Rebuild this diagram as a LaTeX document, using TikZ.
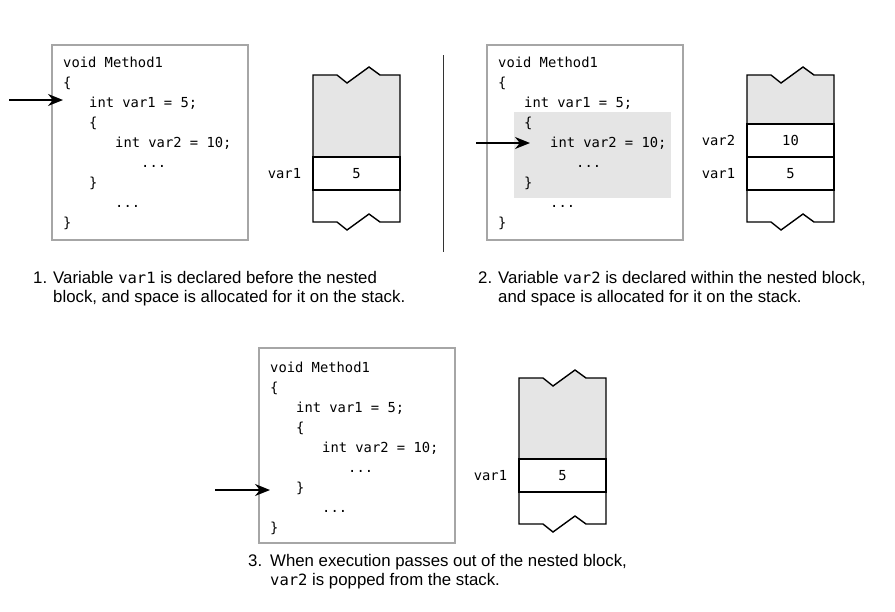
\documentclass[tikz,border=0pt]{standalone}
\usepackage{fontspec}
\setmainfont{Liberation Sans}
\setmonofont{DejaVu Sans Mono}
\usetikzlibrary{arrows.meta,positioning}

\newcommand{\codedots}{...}
\newcommand{\vname}[1]{{\ttfamily\fontsize{15.5}{19}\selectfont #1}}
\newcommand{\methodcode}{0/void Method1, 0/\{, 1/int var1 = 5;, 1/\{, 2/int var2 = 10;, 3/\codedots, 1/\}, 2/\codedots, 0/\}}

\begin{document}
\begin{tikzpicture}[x=1pt, y=-1pt,
    codebox/.style={draw=gray!70, line width=1.5pt, minimum width=196pt, minimum height=195pt, inner sep=0pt},
    codeline/.style={anchor=base west, inner sep=0pt, font=\ttfamily\fontsize{13.8}{16}\selectfont},
    cell/.style={draw, line width=1.4pt, minimum width=87pt, minimum height=33pt, inner sep=0pt, font=\ttfamily\fontsize{13.8}{16}\selectfont},
    varname/.style={inner sep=0pt, font=\ttfamily\fontsize{13.8}{16}\selectfont},
    stack/.style={draw, line width=1.4pt},
    caption/.style={anchor=base west, inner sep=0pt, align=left, font=\fontsize{16.8}{19.5}\selectfont},
    ptr/.style={-{Stealth[length=15pt,width=12pt]}, line width=1.8pt},
]
\useasboundingbox (0,0) rectangle (895,611);

% 1: before the nested block
\node[codebox] (box1) at (150,142.5) {};
\foreach \lv/\txt [count=\i] in \methodcode
  \node[codeline] (a\i) at ({63+26*\lv},{67+20*(\i-1)}) {\txt};
\coordinate (a-from) at (9,100);
\coordinate (a-to) at (63,100);
\draw[ptr] (a-from) -- (a-to);

\draw[stack, fill=gray!20] (313,157) -- (313,75) -- ++(24,0) -- ++(10,8) -- ++(22,-16) -- ++(11,8) -- (400,75) -- (400,157);
\node[cell] (s1a) at (356.5,173.5) {5};
\draw[stack] (313,190) -- (313,222) -- ++(24,0) -- ++(10,8) -- ++(22,-16) -- ++(11,8) -- (400,222) -- (400,190);
\node[varname, left=11pt of s1a] (l1a) {var1};

\node[caption] (cap1) at (33,283) {\begin{tabular}[t]{@{}p{20pt}@{}l@{}}
  1.&Variable \vname{var1} is declared before the nested\\
    &block, and space is allocated for it on the stack.
\end{tabular}};

\draw[line width=1pt, black!80] (443,55) -- (443,252);

% 2: inside the nested block
\fill[gray!20] (514,112) rectangle (671,198);
\node[codebox] (box2) at (585,142.5) {};
\foreach \lv/\txt [count=\i] in \methodcode
  \node[codeline] (b\i) at ({498+26*\lv},{67+20*(\i-1)}) {\txt};
\coordinate (b-from) at (476,143);
\coordinate (b-to) at (530,143);
\draw[ptr] (b-from) -- (b-to);

\draw[stack, fill=gray!20] (747,124) -- (747,75) -- ++(24,0) -- ++(10,8) -- ++(22,-16) -- ++(11,8) -- (834,75) -- (834,124);
\node[cell] (s2b) at (790.5,140.5) {10};
\node[cell] (s2a) at (790.5,173.5) {5};
\draw[stack] (747,190) -- (747,222) -- ++(24,0) -- ++(10,8) -- ++(22,-16) -- ++(11,8) -- (834,222) -- (834,190);
\node[varname, left=11pt of s2b] (l2b) {var2};
\node[varname, left=11pt of s2a] (l2a) {var1};

\node[caption] (cap2) at (478,283) {\begin{tabular}[t]{@{}p{20pt}@{}l@{}}
  2.&Variable \vname{var2} is declared within the nested block,\\
    &and space is allocated for it on the stack.
\end{tabular}};

% 3: after the nested block
\node[codebox] (box3) at (357,445.5) {};
\foreach \lv/\txt [count=\i] in \methodcode
  \node[codeline] (c\i) at ({270+26*\lv},{372+20*(\i-1)}) {\txt};
\coordinate (c-from) at (215,490);
\coordinate (c-to) at (270,490);
\draw[ptr] (c-from) -- (c-to);

\draw[stack, fill=gray!20] (519,459) -- (519,378) -- ++(24,0) -- ++(10,8) -- ++(22,-16) -- ++(11,8) -- (606,378) -- (606,459);
\node[cell] (s3a) at (562.5,475.5) {5};
\draw[stack] (519,492) -- (519,524) -- ++(24,0) -- ++(10,8) -- ++(22,-16) -- ++(11,8) -- (606,524) -- (606,492);
\node[varname, left=11pt of s3a] (l3a) {var1};

\node[caption] (cap3) at (248,566) {\begin{tabular}[t]{@{}p{22pt}@{}l@{}}
  3.&When execution passes out of the nested block,\\
    &\vname{var2} is popped from the stack.
\end{tabular}};
\end{tikzpicture}
\end{document}
